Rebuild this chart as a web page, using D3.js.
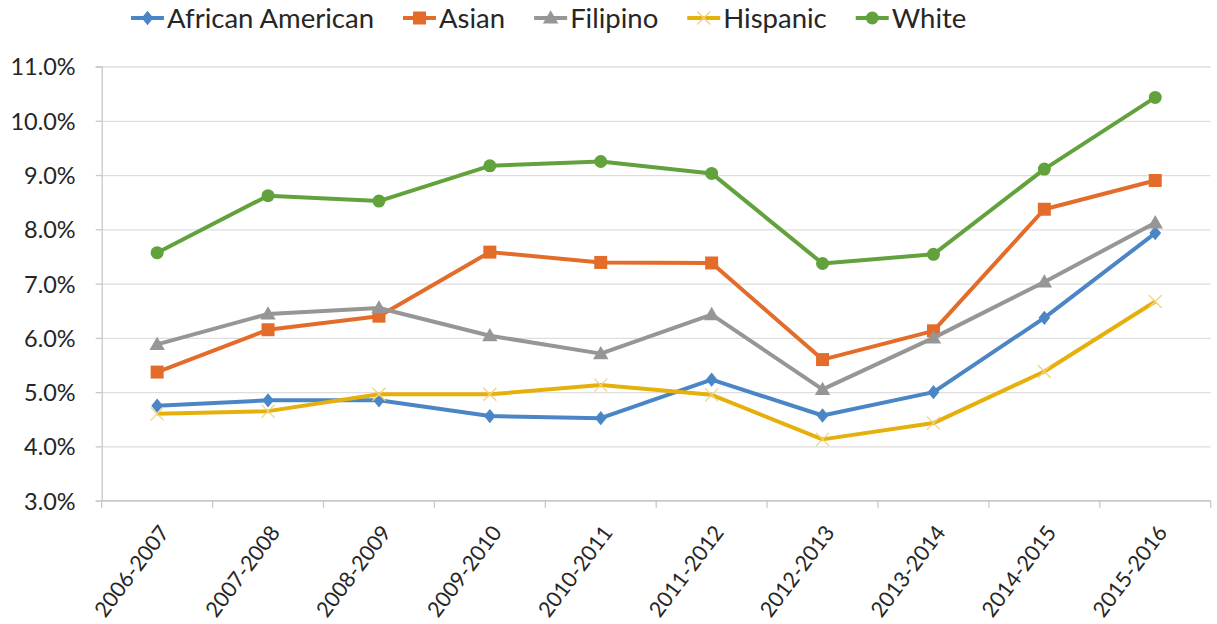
<!DOCTYPE html>
<html>
<head>
<meta charset="utf-8">
<script src="https://cdn.jsdelivr.net/npm/d3@7"></script>
<style>
  body { margin: 0; background: #fff; }
  svg { display: block; font-family: Lato, "Open Sans", sans-serif; }
</style>
</head>
<body>
<svg width="1217" height="624"></svg>
<script>
const categories = ["2006-2007", "2007-2008", "2008-2009", "2009-2010", "2010-2011",
  "2011-2012", "2012-2013", "2013-2014", "2014-2015", "2015-2016"];

const seriesNames = ["African American", "Asian", "Filipino", "Hispanic", "White"];

const africanAmerican = [4.75, 4.85, 4.85, 4.56, 4.52, 5.23, 4.57, 5.00, 6.37, 7.93];
const asian = [5.37, 6.15, 6.40, 7.58, 7.39, 7.38, 5.60, 6.13, 8.37, 8.90];
const filipino = [5.88, 6.44, 6.55, 6.04, 5.71, 6.43, 5.05, 6.00, 7.03, 8.12];
const hispanic = [4.60, 4.65, 4.96, 4.96, 5.13, 4.95, 4.13, 4.43, 5.38, 6.67];
const white = [7.57, 8.62, 8.52, 9.17, 9.25, 9.03, 7.37, 7.54, 9.11, 10.43];

const yTicks = [3, 4, 5, 6, 7, 8, 9, 10, 11];

const colours = ["#4a86c5", "#e36c2a", "#969696", "#e6b00c", "#62a23c"];

const svg = d3.select('svg');
const width = +svg.attr('width');
const height = +svg.attr('height');

const margin = { top: 66.5, right: 6.3, bottom: 123.3, left: 101.7 };

const xScale = d3.scaleBand()
    .domain(categories)
    .range([margin.left, width - margin.right]);

const yScale = d3.scaleLinear()
    .domain([3, 11])
    .range([height - margin.bottom, margin.top]);

// marker shapes, sized in px
const diamond = { draw(ctx, s) { ctx.moveTo(0, -s * 0.55); ctx.lineTo(s * 0.45, 0); ctx.lineTo(0, s * 0.55); ctx.lineTo(-s * 0.45, 0); ctx.closePath(); } };
const square = { draw(ctx, s) { ctx.rect(-s / 2, -s / 2, s, s); } };
const triangle = { draw(ctx, s) { ctx.moveTo(0, -s * 0.55); ctx.lineTo(s * 0.55, s * 0.4); ctx.lineTo(-s * 0.55, s * 0.4); ctx.closePath(); } };
const cross = { draw(ctx, s) { ctx.moveTo(-s / 2, -s / 2); ctx.lineTo(s / 2, s / 2); ctx.moveTo(s / 2, -s / 2); ctx.lineTo(-s / 2, s / 2); } };
const circle = { draw(ctx, s) { ctx.moveTo(s / 2, 0); ctx.arc(0, 0, s / 2, 0, 2 * Math.PI); } };

const series = [
    { name: seriesNames[0], values: africanAmerican, colour: colours[0], shape: diamond, size: 13 },
    { name: seriesNames[1], values: asian, colour: colours[1], shape: square, size: 13 },
    { name: seriesNames[2], values: filipino, colour: colours[2], shape: triangle, size: 14 },
    { name: seriesNames[3], values: hispanic, colour: colours[3], shape: cross, size: 13, hollow: true },
    { name: seriesNames[4], values: white, colour: colours[4], shape: circle, size: 13 }
];

let makeAxes = () => {
    // gridlines
    svg.append('g')
        .attr('transform', 'translate(' + margin.left + ',0)')
        .call(d3.axisLeft(yScale).tickValues(yTicks).tickSize(-(width - margin.left - margin.right)).tickFormat(''))
        .call(g => g.select('.domain').remove())
        .call(g => g.selectAll('line').attr('stroke', '#dedede').attr('stroke-width', 1.3));

    // y axis
    svg.append('g')
        .attr('transform', 'translate(' + margin.left + ',0)')
        .call(d3.axisLeft(yScale).tickValues(yTicks).tickSize(6).tickPadding(20)
            .tickFormat(d => d.toFixed(1) + '%'))
        .call(g => g.select('.domain').attr('stroke', '#c8c8c8').attr('stroke-width', 1.3))
        .call(g => g.selectAll('line').attr('stroke', '#c8c8c8').attr('stroke-width', 1.3))
        .call(g => g.selectAll('text').attr('fill', '#262626').style('font-size', '23.5px')
            .style('font-family', 'Lato, sans-serif').attr('dy', '0.36em'));

    // x axis
    const xAxis = svg.append('g')
        .attr('transform', 'translate(0,' + (height - margin.bottom) + ')');

    xAxis.append('line')
        .attr('x1', margin.left).attr('x2', width - margin.right)
        .attr('stroke', '#c8c8c8').attr('stroke-width', 1.5);

    const bounds = categories.map(c => xScale(c)).concat([xScale.range()[1]]);
    xAxis.selectAll('line.tick').data(bounds).enter()
        .append('line')
        .attr('class', 'tick')
        .attr('x1', d => d).attr('x2', d => d)
        .attr('y1', 0).attr('y2', 7)
        .attr('stroke', '#c8c8c8').attr('stroke-width', 1.3);

    xAxis.selectAll('text').data(categories).enter()
        .append('text')
        .attr('transform', d => 'translate(' + (xScale(d) + xScale.bandwidth() / 2 + 13) + ',32) rotate(-53)')
        .attr('text-anchor', 'end')
        .attr('fill', '#262626')
        .style('font-size', '21.5px')
        .text(d => d);
}

let makeLines = () => {
    const line = d3.line()
        .x((d, i) => xScale(categories[i]) + xScale.bandwidth() / 2)
        .y(d => yScale(d));

    const groups = svg.selectAll('g.series').data(series).enter()
        .append('g')
        .attr('class', 'series');

    groups.append('path')
        .attr('d', d => line(d.values))
        .attr('fill', 'none')
        .attr('stroke', d => d.colour)
        .attr('stroke-width', 4)
        .attr('stroke-linejoin', 'round');

    groups.each(function(s) {
        d3.select(this).selectAll('path.marker').data(s.values).enter()
            .append('path')
            .attr('class', 'marker')
            .attr('transform', (d, i) => 'translate(' + (xScale(categories[i]) + xScale.bandwidth() / 2) + ',' + yScale(d) + ')')
            .attr('d', d3.symbol().type(s.shape).size(s.size))
            .attr('fill', s.hollow ? 'none' : s.colour)
            .attr('stroke', s.hollow ? '#f2d27a' : 'none')
            .attr('stroke-width', 1.3);
    });
}

let makeLegend = () => {
    const legend = svg.append('g').attr('transform', 'translate(131,18)');
    let xPos = 0;
    series.forEach(s => {
        const item = legend.append('g').attr('transform', 'translate(' + xPos + ',0)');
        item.append('line')
            .attr('x1', 0).attr('x2', 33)
            .attr('stroke', s.colour).attr('stroke-width', 4);
        item.append('path')
            .attr('transform', 'translate(16.5,0)')
            .attr('d', d3.symbol().type(s.shape).size(s.size))
            .attr('fill', s.hollow ? 'none' : s.colour)
            .attr('stroke', s.hollow ? '#f2d27a' : 'none')
            .attr('stroke-width', 1.3);
        const t = item.append('text')
            .attr('x', 36)
            .attr('dy', '0.36em')
            .attr('fill', '#262626')
            .style('font-size', '27.5px')
            .text(s.name);
        xPos += 36 + t.node().getComputedTextLength() + 29;
    });
}

makeAxes();
makeLines();
makeLegend();
</script>
</body>
</html>
